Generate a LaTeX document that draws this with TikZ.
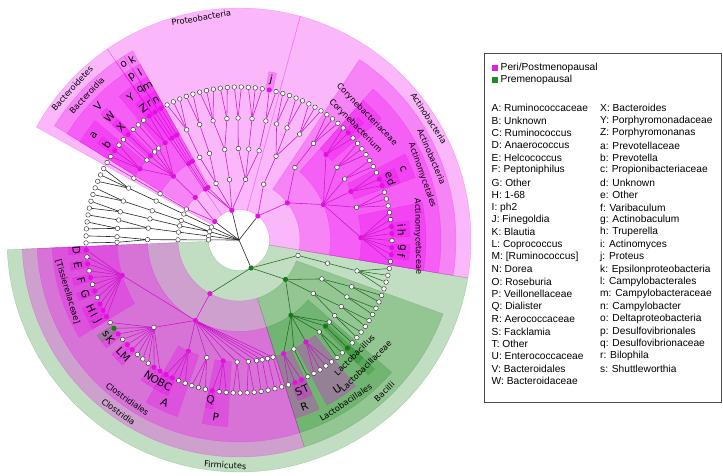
\documentclass[tikz,border=0pt]{standalone}
\usepackage{fontspec}
\setmainfont{DejaVu Sans}
\newfontfamily\legfont{Liberation Sans}
\definecolor{shM}{RGB}{240,0,240}
\definecolor{shG}{RGB}{20,130,20}
\definecolor{ndM}{RGB}{226,16,226}
\definecolor{ndG}{RGB}{25,120,25}
\definecolor{edM}{RGB}{205,20,205}
\definecolor{edG}{RGB}{30,105,30}
\definecolor{lgM}{RGB}{224,32,224}
\definecolor{lgG}{RGB}{30,140,30}
\tikzset{
  hm/.style={fill=shM,draw=shM,opacity=.28,line width=.4pt},
  hg/.style={fill=shG,draw=shG,opacity=.26,line width=.4pt},
  wn/.style={circle,draw=black!85,fill=white,line width=.4pt,inner sep=0pt,minimum size=4.6pt},
  mn/.style={circle,fill=ndM,inner sep=0pt,minimum size=5.2pt},
  gn/.style={circle,fill=ndG,inner sep=0pt,minimum size=5.2pt},
  em/.style={draw=edM,line width=.55pt},
  eg/.style={draw=edG,line width=.55pt},
  ek/.style={draw=black!85,line width=.6pt},
  lt/.style={inner sep=0pt,font=\fontsize{10.5}{12}\selectfont},
  nm/.style={inner sep=0pt,font=\fontsize{8.2}{10}\selectfont},
  lg/.style={anchor=west,inner sep=0pt,font=\legfont\fontsize{10.2}{12}\selectfont},
  sq/.style={inner sep=0pt,minimum size=6pt},
}
\newcommand\hsect[5]{%
  \pgfmathsetmacro\hsA{la(#2)-1.314}%
  \pgfmathsetmacro\hsB{la(#3)+1.314}%
  \path[#1] (\hsA:#4pt) arc[start angle=\hsA,end angle=\hsB,radius=#4pt]
    -- (\hsB:#5pt) arc[start angle=\hsB,end angle=\hsA,radius=#5pt] -- cycle;}
\newcommand\tn[4]{\node[#4] (#1) at ({la(#2)}:#3pt) {};}
\newcommand\fl[4]{\foreach \j in {#3,...,#4} {\draw[#1] (#2) -- (L\j);}}
\newcommand\clab[5]{%
  \pgfmathsetmacro\clA{la(#2)}%
  \pgfmathsetmacro\clR{\clA<180 ? \clA-90 : \clA+90}%
  \node[#4,rotate=\clR] (#1) at (\clA:#3pt) {#5};}
\begin{document}
\begin{tikzpicture}[x=1pt,y=1pt,declare function={la(\x)=-8.1+2.6277*\x;}]
\fill[white] (0,0) rectangle (723,475);
\useasboundingbox (0,0) rectangle (723,475);
\begin{scope}[shift={(239,235)}]
% ---------- highlighted sectors ----------
\hsect{hm}{0}{31}{30.5}{232}
\hsect{hm}{32}{50}{30.5}{232}
\hsect{hm}{51}{60}{30.5}{232}
\hsect{hg}{73}{136}{30.5}{232}
\hsect{hm}{0}{24}{61}{217}
\hsect{hm}{49}{49}{61}{217}
\hsect{hm}{50}{50}{61}{217}
\hsect{hm}{51}{59}{61}{217}
\hsect{hm}{73}{112}{61}{217}
\hsect{hg}{113}{132}{61}{217}
\hsect{hm}{0}{21}{91.5}{202}
\hsect{hm}{49}{49}{91.5}{202}
\hsect{hm}{50}{50}{91.5}{202}
\hsect{hm}{51}{59}{91.5}{202}
\hsect{hm}{73}{112}{91.5}{202}
\hsect{hg}{113}{124}{91.5}{202}
\foreach \a/\b in {0/7,11/13,19/21,49/49,50/50,51/52,55/55,57/59,73/83,95/98,102/104,113/115,117/120}
  {\hsect{hm}{\a}{\b}{122}{187}}
\hsect{hg}{123}{123}{122}{187}
\foreach \g in {1,2,4,5,11,12,20,33,49,50,51,55,58,73,75,77,79,81,82,83,86,88,89,93,94,95,96,102,114,115}
  {\hsect{hm}{\g}{\g}{153}{171}}
\hsect{hg}{85}{85}{153}{171}
\hsect{hg}{123}{123}{153}{171}
% ---------- leaves ----------
\foreach \i in {0,3,6,7,8,9,10,13,14,...,19,21,22,...,32,34,35,...,48,52,53,54,56,57,59,60,...,72,74,76,78,80,84,87,90,91,92,97,98,...,101,103,104,...,113,116,117,...,122,124,125,...,136}
  {\node[wn] (L\i) at ({la(\i)}:153pt) {};}
\foreach \i in {1,2,4,5,11,12,20,33,49,50,51,55,58,73,75,77,79,81,82,83,86,88,89,93,94,95,96,102,114,115}
  {\node[mn] (L\i) at ({la(\i)}:153pt) {};}
\foreach \i in {85,123}
  {\node[gn] (L\i) at ({la(\i)}:153pt) {};}
\coordinate (root) at (0,0);
% ---------- Actinobacteria ----------
\tn{Pact}{22.81}{30.5}{mn}
\tn{Cact}{17.375}{61}{mn}
\tn{Ca2}{28.25}{61}{wn}
\tn{Oact}{11.75}{91.5}{mn}
\tn{Oa2}{23}{91.5}{wn}
\tn{Oa3}{28.25}{91.5}{wn}
\tn{Famc}{3.5}{122}{mn}
\tn{Fa2}{9}{122}{wn}
\tn{Fpro}{12}{122}{mn}
\tn{Fa4}{14.5}{122}{wn}
\tn{Fa5}{17}{122}{wn}
\tn{Fcor}{20}{122}{mn}
\tn{Fa7}{23}{122}{wn}
\tn{Fa8}{26}{122}{wn}
\tn{Fa9}{28.5}{122}{wn}
\tn{Fa10}{30.5}{122}{wn}
% ---------- Proteobacteria ----------
\tn{Ppro}{42.5}{30.5}{mn}
\tn{Cg}{35}{61}{wn}
\tn{Cb}{40.75}{61}{wn}
\tn{Cal}{45.75}{61}{wn}
\tn{Ceps}{49}{61}{mn}
\tn{Cdel}{50}{61}{mn}
\tn{Og1}{32.5}{91.5}{wn}
\tn{Og2}{35}{91.5}{wn}
\tn{Og3}{37.5}{91.5}{wn}
\tn{Ob1}{40.75}{91.5}{wn}
\tn{Oal1}{44.5}{91.5}{wn}
\tn{Oal2}{47}{91.5}{wn}
\tn{Oeps}{49}{91.5}{mn}
\tn{Odel}{50}{91.5}{mn}
\tn{Febc}{32.5}{122}{wn}
\tn{Fpas}{35}{122}{wn}
\tn{Fpsd}{37.5}{122}{wn}
\tn{Fb1}{39.5}{122}{wn}
\tn{Fb2}{42}{122}{wn}
\tn{Fal1}{44.5}{122}{wn}
\tn{Fal2}{47}{122}{wn}
\tn{Feps}{49}{122}{mn}
\tn{Fdel}{50}{122}{mn}
% ---------- Bacteroidetes ----------
\tn{Pbct}{57.375}{30.5}{mn}
\tn{Cbac}{54.75}{61}{mn}
\tn{Cflv}{60}{61}{wn}
\tn{Obac}{54.75}{91.5}{mn}
\tn{Oflv}{60}{91.5}{wn}
\tn{Fpor}{51.5}{122}{mn}
\tn{Fd3}{53}{122}{wn}
\tn{Fd4}{54}{122}{wn}
\tn{Fbcd}{55}{122}{mn}
\tn{Fd6}{56}{122}{wn}
\tn{Fprv}{58}{122}{mn}
\tn{Fflv}{60}{122}{wn}
% ---------- other phyla ----------
\tn{Pu1}{62}{30.5}{wn}
\tn{Cu1}{62}{61}{wn}
\tn{Ou1}{62}{91.5}{wn}
\tn{Fu1}{62}{122}{wn}
\tn{Pu2}{65.5}{30.5}{wn}
\tn{Cu2a}{64.5}{61}{wn}
\tn{Ou2a}{64.5}{91.5}{wn}
\tn{Fu2a}{64.5}{122}{wn}
\tn{Cu2b}{66.5}{61}{wn}
\tn{Ou2b}{66.5}{91.5}{wn}
\tn{Fu2b}{66.5}{122}{wn}
\tn{Pu3}{68.75}{30.5}{wn}
\tn{Cu3}{68.75}{61}{wn}
\tn{Ou3}{68.75}{91.5}{wn}
\tn{Fu3a}{68}{122}{wn}
\tn{Fu3b}{69.5}{122}{wn}
\tn{Pu4}{71.5}{30.5}{wn}
\tn{Cu4}{71.5}{61}{wn}
\tn{Ou4}{71.5}{91.5}{wn}
\tn{Fu4a}{71}{122}{wn}
\tn{Fu4b}{72}{122}{wn}
% ---------- Firmicutes ----------
\tn{Pfir}{114.75}{30.5}{gn}
\tn{Cclo}{95}{61}{mn}
\tn{Cbcl}{124.75}{61}{gn}
\tn{Cery}{134.5}{61}{wn}
\tn{Oclo}{95}{91.5}{mn}
\tn{Olab}{119}{91.5}{gn}
\tn{Ob2}{126.5}{91.5}{wn}
\tn{Ob3}{130.5}{91.5}{wn}
\tn{Oery}{134.5}{91.5}{wn}
\tn{Ftis}{78}{122}{mn}
\tn{Flch}{89}{122}{wn}
\tn{Frum}{96.5}{122}{mn}
\tn{Ff4}{100}{122}{wn}
\tn{Fvei}{103}{122}{mn}
\tn{Ff6}{105.5}{122}{wn}
\tn{Ff7}{107.5}{122}{wn}
\tn{Ff8}{109}{122}{wn}
\tn{Ff9}{110}{122}{wn}
\tn{Ff10}{111}{122}{wn}
\tn{Ff11}{112}{122}{wn}
\tn{Faer}{114}{122}{mn}
\tn{Fl2}{116}{122}{wn}
\tn{Fenc}{118.5}{122}{mn}
\tn{Fl4}{121.5}{122}{wn}
\tn{Flcb}{123}{122}{gn}
\tn{Fl6}{124}{122}{wn}
\tn{Fg1}{125.5}{122}{wn}
\tn{Fg2}{127.5}{122}{wn}
\tn{Fg3}{129.5}{122}{wn}
\tn{Fg4}{131.5}{122}{wn}
\tn{Fery}{134.5}{122}{wn}
% ---------- edges ----------
\foreach \p in {Pact,Ppro,Pbct,Pu1,Pu2,Pu3,Pu4,Pfir} {\draw[ek] (root) -- (\p);}
\draw[em] (Pact) -- (Cact) (Pact) -- (Ca2) (Cact) -- (Oact) (Cact) -- (Oa2) (Ca2) -- (Oa3);
\foreach \f in {Famc,Fa2,Fpro,Fa4,Fa5,Fcor} {\draw[em] (Oact) -- (\f);}
\draw[em] (Oa2) -- (Fa7) (Oa3) -- (Fa8) (Oa3) -- (Fa9) (Oa3) -- (Fa10);
\fl{em}{Famc}{0}{7}\fl{em}{Fa2}{8}{10}\fl{em}{Fpro}{11}{13}\fl{em}{Fa4}{14}{15}
\fl{em}{Fa5}{16}{18}\fl{em}{Fcor}{19}{21}\fl{em}{Fa7}{22}{24}\fl{em}{Fa8}{25}{27}
\fl{em}{Fa9}{28}{29}\fl{em}{Fa10}{30}{31}
\foreach \c in {Cg,Cb,Cal,Ceps,Cdel} {\draw[em] (Ppro) -- (\c);}
\draw[em] (Cg) -- (Og1) (Cg) -- (Og2) (Cg) -- (Og3) (Cb) -- (Ob1) (Cal) -- (Oal1) (Cal) -- (Oal2)
  (Ceps) -- (Oeps) (Cdel) -- (Odel);
\draw[em] (Og1) -- (Febc) (Og2) -- (Fpas) (Og3) -- (Fpsd) (Ob1) -- (Fb1) (Ob1) -- (Fb2)
  (Oal1) -- (Fal1) (Oal2) -- (Fal2) (Oeps) -- (Feps) (Odel) -- (Fdel);
\fl{em}{Febc}{32}{33}\fl{em}{Fpas}{34}{36}\fl{em}{Fpsd}{37}{38}\fl{em}{Fb1}{39}{40}
\fl{em}{Fb2}{41}{43}\fl{em}{Fal1}{44}{45}\fl{em}{Fal2}{46}{48}\fl{em}{Feps}{49}{49}\fl{em}{Fdel}{50}{50}
\draw[em] (Pbct) -- (Cbac) (Pbct) -- (Cflv) (Cbac) -- (Obac) (Cflv) -- (Oflv) (Oflv) -- (Fflv);
\foreach \f in {Fpor,Fd3,Fd4,Fbcd,Fd6,Fprv} {\draw[em] (Obac) -- (\f);}
\fl{em}{Fpor}{51}{52}\fl{em}{Fd3}{53}{53}\fl{em}{Fd4}{54}{54}\fl{em}{Fbcd}{55}{55}
\fl{em}{Fd6}{56}{56}\fl{em}{Fprv}{57}{59}\fl{em}{Fflv}{60}{60}
\draw[ek] (Pu1) -- (Cu1) -- (Ou1) -- (Fu1);
\draw[ek] (Pu2) -- (Cu2a) -- (Ou2a) -- (Fu2a) (Pu2) -- (Cu2b) -- (Ou2b) -- (Fu2b);
\draw[ek] (Pu3) -- (Cu3) -- (Ou3) -- (Fu3a) (Ou3) -- (Fu3b);
\draw[ek] (Pu4) -- (Cu4) -- (Ou4) -- (Fu4a) (Ou4) -- (Fu4b);
\fl{ek}{Fu1}{61}{63}\fl{ek}{Fu2a}{64}{65}\fl{ek}{Fu2b}{66}{67}\fl{ek}{Fu3a}{68}{68}
\fl{ek}{Fu3b}{69}{70}\fl{ek}{Fu4a}{71}{71}\fl{ek}{Fu4b}{72}{72}
\draw[eg] (Pfir) -- (Cclo) (Pfir) -- (Cbcl) (Pfir) -- (Cery);
\draw[em] (Cclo) -- (Oclo);
\foreach \f in {Ftis,Flch,Frum,Ff4,Fvei,Ff6,Ff7,Ff8,Ff9,Ff10,Ff11} {\draw[em] (Oclo) -- (\f);}
\fl{em}{Ftis}{73}{83}\fl{em}{Flch}{84}{94}\fl{em}{Frum}{95}{98}\fl{em}{Ff4}{99}{101}
\fl{em}{Fvei}{102}{104}\fl{em}{Ff6}{105}{106}\fl{em}{Ff7}{107}{108}\fl{em}{Ff8}{109}{109}
\fl{em}{Ff9}{110}{110}\fl{em}{Ff10}{111}{111}\fl{em}{Ff11}{112}{112}
\draw[eg] (Cbcl) -- (Olab) (Cbcl) -- (Ob2) (Cbcl) -- (Ob3);
\foreach \f in {Faer,Fl2,Fenc,Fl4,Flcb,Fl6} {\draw[eg] (Olab) -- (\f);}
\draw[eg] (Ob2) -- (Fg1) (Ob2) -- (Fg2) (Ob3) -- (Fg3) (Ob3) -- (Fg4) (Cery) -- (Oery) -- (Fery);
\fl{em}{Faer}{113}{115}\fl{eg}{Fl2}{116}{116}\fl{em}{Fenc}{117}{120}\fl{eg}{Fl4}{121}{122}
\fl{eg}{Flcb}{123}{123}\fl{eg}{Fl6}{124}{124}\fl{eg}{Fg1}{125}{126}\fl{eg}{Fg2}{127}{128}
\fl{eg}{Fg3}{129}{130}\fl{eg}{Fg4}{131}{132}\fl{eg}{Fery}{133}{136}
% ---------- labels ----------
\clab{tPact}{15.5}{225.5}{nm}{Actinobacteria}
\clab{tPpro}{41}{225.5}{nm}{Proteobacteria}
\clab{tPbct}{55.5}{225.5}{nm}{Bacteroidetes}
\clab{tPfir}{104.5}{225.5}{nm}{Firmicutes}
\clab{tCact}{12}{210}{nm}{Actinobacteria}
\clab{tCeps}{49}{210}{lt}{k}
\clab{tCdel}{50}{210}{lt}{o}
\clab{tCbac}{55}{210}{nm}{Bacteroidia}
\clab{tCclo}{92.5}{210}{nm}{Clostridia}
\clab{tCbcl}{122.5}{210}{nm}{Bacilli}
\clab{tOact}{10.5}{194.5}{nm}{Actinomycetales}
\clab{tOeps}{49}{194.5}{lt}{l}
\clab{tOdel}{50}{194.5}{lt}{p}
\clab{tObac}{55}{194.5}{lt}{V}
\clab{tOclo}{92.5}{194.5}{nm}{Clostridiales}
\clab{tOlab}{118.5}{194.5}{nm}{Lactobacillales}
\clab{tFamc}{3.5}{179}{nm}{Actinomycetaceae}
\clab{tFpro}{12}{179}{lt}{c}
\clab{tFcor}{20}{179}{nm}{Corynebacteriaceae}
\clab{tFeps}{49}{179}{lt}{m}
\clab{tFdel}{50}{179}{lt}{q}
\clab{tFpor}{51.5}{179}{lt}{Y}
\clab{tFbcd}{55}{179}{lt}{W}
\clab{tFprv}{58}{179}{lt}{a}
\clab{tFtis}{78}{179}{nm}{[Tissierellaceae]}
\clab{tFrum}{96.5}{179}{lt}{A}
\clab{tFvei}{103}{179}{lt}{P}
\clab{tFaer}{114}{179}{lt}{R}
\clab{tFenc}{118.5}{179}{lt}{U}
\clab{tFlcb}{123}{179}{nm}{Lactobacillaceae}
\foreach \g/\t in {1/f,2/g,4/h,5/i,11/d,12/e,33/j,49/n,50/r,51/Z,55/X,58/b,73/D,75/E,77/F,79/G,81/H,82/I,83/J,85/s,86/K,88/L,89/M,93/N,94/O,95/B,96/C,102/Q,114/S,115/T}
  {\clab{tG\g}{\g}{163}{lt}{\t}}
\clab{tGcor}{20}{163}{nm}{Corynebacterium}
\clab{tGlcb}{123}{163}{nm}{Lactobacillus}
\end{scope}
% ---------- legend ----------
\draw[draw=black!70,line width=.8pt] (484,73) rectangle (721.5,422);
\node[sq,fill=lgM] (lgm) at (495,407) {};
\node[lg] (lgmt) at (500.5,407) {Peri/Postmenopausal};
\node[sq,fill=lgG] (lgg) at (495,394.7) {};
\node[lg] (lggt) at (500.5,394.7) {Premenopausal};
\foreach \t [count=\n from 0] in {A: Ruminococcaceae,B: Unknown,C: Ruminococcus,D: Anaerococcus,E: Helcococcus,F: Peptoniphilus,G: Other,H: 1-68,I: ph2,J: Finegoldia,K: Blautia,L: Coprococcus,{M: [Ruminococcus]},N: Dorea,O: Roseburia,P: Veillonellaceae,Q: Dialister,R: Aerococcaceae,S: Facklamia,T: Other,U: Enterococcaceae,V: Bacteroidales,W: Bacteroidaceae}
  {\node[lg] (lgl\n) at (491.5,{366.7-12.4*\n}) {\t};}
\foreach \t [count=\n from 0] in {X: Bacteroides,Y: Porphyromonadaceae,Z: Porphyromonanas,a: Prevotellaceae,b: Prevotella,c: Propionibacteriaceae,d: Unknown,e: Other,f: Varibaculum,g: Actinobaculum,h: Truperella,i: Actinomyces,j: Proteus,k: Epsilonproteobacteria,l: Campylobacterales,m: Campylobacteraceae,n: Campylobacter,o: Deltaproteobacteria,p: Desulfovibrionales,q: Desulfovibrionaceae,r: Bilophila,s: Shuttleworthia}
  {\node[lg] (lgr\n) at (600,{366.7-12.4*\n}) {\t};}
\end{tikzpicture}
\end{document}
